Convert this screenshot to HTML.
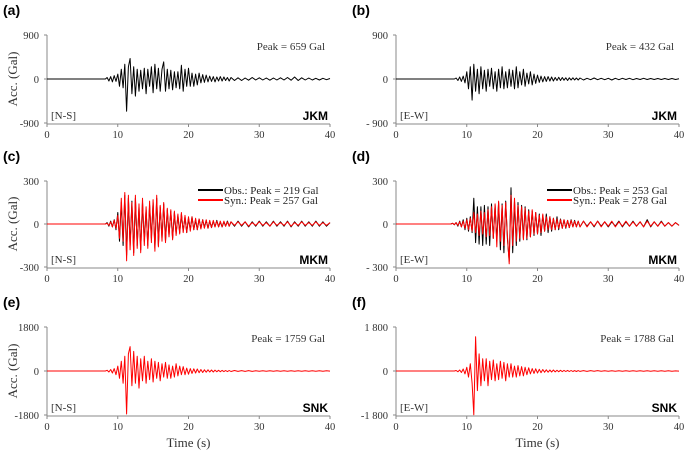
<!DOCTYPE html>
<html><head><meta charset="utf-8"><style>
body{margin:0;background:#fff;}
svg{display:block;font-family:"Liberation Serif",serif;}
.pl{font-family:"Liberation Sans",sans-serif;font-weight:bold;font-size:14px;}
.tk{font-size:10.5px;fill:#333;}
.st{font-family:"Liberation Sans",sans-serif;font-weight:bold;font-size:12px;}
</style></head><body>
<svg id="chart" width="685" height="453"></svg>
<script>
const aHead=[0,0,0,0,0,0,30,-40,50,-60,70,-50,100,-150,200,-180,300,-659,250,420,-300,250,-350,200,-250,180,-200,220,-300,200,-150,250,-280,300,-200,220,-250,200,350,-250,200,-200,180,-220,150,-180,150,-200,280,-250,200,-150,220,-150,120,-150,100,-120,120,-80,90,-70,80,-60,60,-50,50,-60,40,-40,50,-40,40,-30,30,-40,30];
const aTail=[-30,25,-30,20,-25,30,-20,25,-20,20,-25,20,-20,25,-20,30,-25,40,-30,25,-20,20,-20,15,-20,15,-15,10];
const bHead=[0,0,0,0,0,0,20,-30,40,-50,60,-80,150,-200,250,-432,300,-250,200,-300,250,-200,180,-250,200,-150,220,-200,150,-250,200,-180,250,-200,150,-180,200,-150,180,-200,250,-180,150,-120,200,-150,120,-100,150,-120,100,-90,80,-70,60,-60,50,-50,50,-40,40,-40,30,-30,35,-30,30,-25,25,-30,25,-20,25,-20,20,-20,20];
const bTail=[-20,15,-15,20,-15,15,-15,15,-20,15,-15,15,-10,15,-15,10,-10,15,-10,10,-10,10,-10,10,-10,10,-10,5];
const cObsHead=[0,0,0,0,0,0,10,-15,20,-20,30,-40,80,-120,150,-150,200,-219,180,-150,160,-200,180,-150,120,-180,150,-120,100,-150,130,-100,150,-170,180,-150,120,-100,140,-120,100,-80,90,-100,80,-70,60,-60,70,-50,50,-60,40,-40,50,-40,30,-40,35,-30,30,-25,25,-30,20,-25,20,-20,25,-20,15,-20,15,-15,20,-15,15];
const cObsTail=[-15,20,-15,15,-20,15,-15,20,-15,15,-15,20,-15,15,-15,20,-20,15,-15,20,-15,15,-15,20,-15,15,-15,10];
const cSynHead=[0,0,0,0,0,0,5,-10,15,-20,25,-30,60,-100,180,-120,220,-257,200,-180,150,-220,200,-170,140,-200,180,-150,120,-170,160,-130,170,-190,200,-160,130,-120,150,-130,110,-90,100,-110,90,-80,70,-70,80,-60,60,-60,50,-50,50,-40,40,-40,35,-35,30,-30,30,-30,25,-25,25,-20,20,-20,20,-20,20,-15,15,-15,15];
const cSynTail=[-10,15,-10,15,-15,10,-10,15,-10,10,-15,15,-10,10,-10,15,-15,10,-10,15,-10,10,-10,15,-10,10,-10,10];
const dObsHead=[0,0,0,0,5,-5,10,-15,20,-20,30,-40,40,-50,50,-60,180,-130,120,-140,120,-150,130,-140,120,-150,140,-100,130,-120,150,-180,140,-200,160,-100,-260,253,-200,160,-150,150,-120,130,-100,120,-110,100,-90,90,-80,80,-70,70,-80,60,-50,70,-60,50,-50,40,-40,50,-40,35,-30,30,-30,25,-25,30,-20,25,-20,20,-20];
const dObsTail=[20,-15,15,-20,20,-15,15,-20,15,-15,20,-20,15,-15,20,-15,15,-20,30,-20,15,-15,20,-15,10,-15,10,-10];
const dSynHead=[0,0,0,0,5,-5,10,-10,15,-20,20,-30,30,-40,40,-50,80,-60,70,-80,90,-70,80,-90,100,-80,120,-100,140,-160,160,-120,130,-150,150,-80,-278,200,-150,180,-120,130,-100,120,-110,110,-100,90,-90,100,-70,80,-70,60,-60,70,-50,50,-40,50,-40,40,-40,35,-30,30,-30,30,-25,25,-25,25,-20,20,-20,20,-20];
const dSynTail=[20,-20,15,-15,20,-20,15,-15,20,-20,15,-15,20,-15,15,-15,15,-20,20,-15,15,-15,15,-15,10,-15,10,-10];
const eHead=[0,0,0,0,0,0,30,-40,60,-80,100,-150,200,-300,400,-500,600,-1759,700,1000,-600,800,-500,600,-700,500,-400,600,-500,400,-350,500,-450,400,-300,350,-400,300,-250,350,-300,250,-300,200,-250,300,-200,200,-150,180,-150,120,-130,100,-100,90,-80,80,-70,60,-60,50,-50,50,-40,40,-40,35,-30,30,-30,25,-25,20,-25,20,-20];
const eTail=[20,-15,15,-15,15,-15,10,-10,10,-10,10,-10,10,-10,10,-10,10,-10,10,-10,10,-10,10,-10,10,-10,10,-5];
const fHead=[0,0,0,0,0,0,20,-30,40,-60,80,-120,150,-250,300,-500,-1788,1400,-800,700,-600,500,-400,500,-600,400,-350,450,-400,300,-350,400,-300,350,-400,300,-250,300,-250,200,-250,220,-200,180,-200,150,-150,130,-120,100,-100,90,-80,70,-70,60,-50,50,-50,40,-40,40,-35,30,-30,30,-25,25,-20,25,-20,20,-20,15,-20,15,-15];
const fTail=[15,-15,15,-10,15,-10,10,-10,10,-10,10,-10,10,-10,10,-10,10,-10,10,-10,10,-10,10,-10,10,-10,5,-5];
const xTicks=[0,10,20,30,40];

const NS="http://www.w3.org/2000/svg";
const svg=document.getElementById('chart');
function mk(tag,attrs,parent,text){const e=document.createElementNS(NS,tag);for(const k in attrs)e.setAttribute(k,attrs[k]);if(text!==undefined)e.textContent=text;(parent||svg).appendChild(e);return e;}

const panels=[
 {id:'a',lab:'(a)',x0:47,x1:330,top:35,zero:79,bot:124,max:900,ytl:['900','0','-900'],comp:'[N-S]',st:'JKM',series:[[aHead,aTail,'#000']],peak:'Peak = 659 Gal',ylab:true},
 {id:'b',lab:'(b)',x0:396,x1:679,top:35,zero:79,bot:124,max:900,ytl:['900','0','- 900'],comp:'[E-W]',st:'JKM',series:[[bHead,bTail,'#000']],peak:'Peak = 432 Gal'},
 {id:'c',lab:'(c)',x0:47,x1:330,top:181,zero:224,bot:268,max:300,ytl:['300','0','-300'],comp:'[N-S]',st:'MKM',series:[[cObsHead,cObsTail,'#000'],[cSynHead,cSynTail,'#f00']],leg:['Obs.: Peak = 219 Gal','Syn.: Peak = 257 Gal'],ylab:true},
 {id:'d',lab:'(d)',x0:396,x1:679,top:181,zero:224,bot:268,max:300,ytl:['300','0','- 300'],comp:'[E-W]',st:'MKM',series:[[dObsHead,dObsTail,'#000'],[dSynHead,dSynTail,'#f00']],leg:['Obs.: Peak = 253 Gal','Syn.: Peak = 278 Gal']},
 {id:'e',lab:'(e)',x0:47,x1:330,top:327,zero:371,bot:416,max:1800,ytl:['1800','0','-1800'],comp:'[N-S]',st:'SNK',series:[[eHead,eTail,'#f00']],peak:'Peak = 1759 Gal',ylab:true,xlab:true},
 {id:'f',lab:'(f)',x0:396,x1:679,top:327,zero:371,bot:416,max:1800,ytl:['1 800','0','-1 800'],comp:'[E-W]',st:'SNK',series:[[fHead,fTail,'#f00']],peak:'Peak = 1788 Gal',xlab:true}
];

panels.forEach(p=>{
 const g=mk('g',{});
 
 
 const xs=t=>p.x0+(t/40)*(p.x1-p.x0);
 const ys=v=>p.zero-(v/p.max)*(p.zero-p.top);
 const pl=mk('text',{x:p.x0-44,y:p.top-20,class:'pl'},g,p.lab);
 
 
 // axes
 const ax=mk('path',{d:`M${p.x0},${p.top}V${p.bot}H${p.x1}`,stroke:'#888',fill:'none','stroke-width':1},g);
 
 
 [p.max,0,-p.max].forEach((v,i)=>{
  mk('line',{x1:p.x0-3,x2:p.x0,y1:ys(v),y2:ys(v),stroke:'#888'},g);
  const t=mk('text',{x:p.x0-8,y:ys(v)+4,'text-anchor':'end',class:'tk'},g,p.ytl[i]);
  
  
 });
 xTicks.forEach(v=>{
  mk('line',{x1:xs(v),x2:xs(v),y1:p.bot,y2:p.bot+3,stroke:'#888'},g);
  const t=mk('text',{x:xs(v),y:p.bot+14,'text-anchor':'middle',class:'tk'},g,String(v));
  
  
 });
 // series
 p.series.forEach((s,si)=>{
  const head=s[0],tail=s[1];
  let pts=[[0,0],[7,0]];
  head.forEach((v,i)=>pts.push([7+i*0.25,v]));
  const hEnd=7+(head.length-1)*0.25;
  tail.forEach((v,i)=>pts.push([Math.min(40,hEnd+(i+1)*((40-hEnd)/tail.length)),v]));
  const d='M'+pts.map(q=>xs(q[0]).toFixed(1)+','+ys(q[1]).toFixed(1)).join('L');
  const path=mk('path',{d:d,fill:'none',stroke:s[2],'stroke-width':1,'stroke-linejoin':'round'},g);
  
  
 });
 const c=mk('text',{x:p.x0+4,y:p.bot-5,'font-size':'11px',fill:'#333'},g,p.comp);
 
 
 const st=mk('text',{x:p.x1-2,y:p.bot-4,'text-anchor':'end',class:'st'},g,p.st);
 
 
 if(p.peak){
  const pk=mk('text',{x:p.x1-5,y:p.top+15,'text-anchor':'end','font-size':'11px',fill:'#333'},g,p.peak);
  
  
 }
 if(p.leg){
  const lg=mk('g',{},g);
  
  
  const lx=p.x1-132;
  [['#000',p.leg[0]],['#f00',p.leg[1]]].forEach((e,i)=>{
   const y=p.top+9+i*10;
   mk('line',{x1:lx,x2:lx+25,y1:y,y2:y,stroke:e[0],'stroke-width':2},lg);
   const t=mk('text',{x:lx+26,y:y+4,'font-size':'11px',fill:'#222'},lg,e[1]);
   
   
  });
 }
 if(p.ylab){
  const yl=mk('text',{x:0,y:0,transform:`translate(17,${p.zero}) rotate(-90)`,'text-anchor':'middle','font-size':'13px',fill:'#333'},g,'Acc. (Gal)');
  
  
 }
 if(p.xlab){
  const xl=mk('text',{x:(p.x0+p.x1)/2,y:447,'text-anchor':'middle','font-size':'13px',fill:'#333'},g,'Time (s)');
  
  
 }
});
</script>
</body></html>
